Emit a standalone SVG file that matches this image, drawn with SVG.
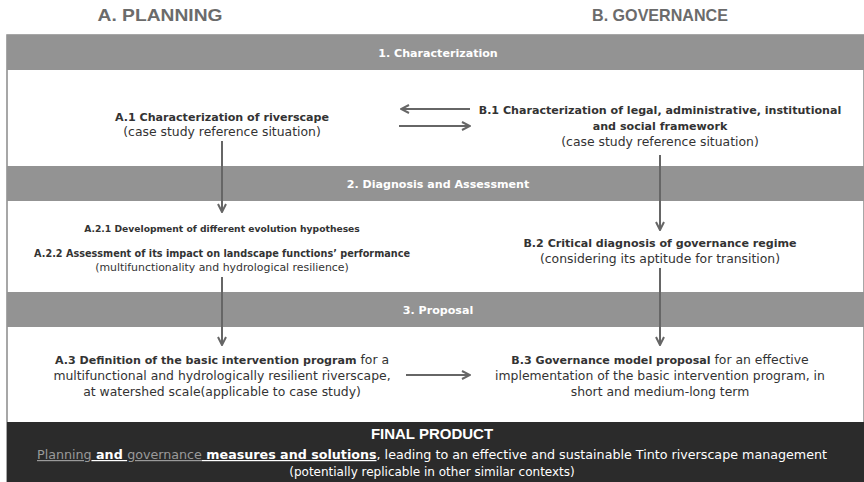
<svg xmlns="http://www.w3.org/2000/svg" width="864" height="482" viewBox="0 0 864 482">
<style>
.hdr{font-family:"Liberation Sans",Arial,sans-serif;font-weight:bold;font-size:17px;fill:#6b6b6b;text-anchor:middle}
.band{fill:#939393}
.bt{font-family:"DejaVu Sans",sans-serif;font-weight:bold;font-size:11.1px;fill:#ffffff;text-anchor:middle}
.t{font-family:"DejaVu Sans",sans-serif;font-size:12.4px;fill:#333;text-anchor:middle}
.b{font-weight:bold;font-size:11.1px}
.sb{font-weight:bold;font-size:9.7px}
.sb1{font-weight:bold;font-size:9.2px}
.s{font-size:10.9px}
.conn{stroke:#666;stroke-width:2;fill:none;marker-end:url(#ah)}
.ft{font-family:"DejaVu Sans",sans-serif;font-size:12px;fill:#ffffff;text-anchor:middle}
</style>
<defs>
<marker id="ah" viewBox="0 0 10 10" refX="9" refY="5" markerWidth="5" markerHeight="5" orient="auto" markerUnits="strokeWidth">
<path d="M1,1 L9,5 L1,9" fill="none" stroke="#666" stroke-width="2"/>
</marker>
</defs>
<rect x="0" y="0" width="864" height="482" fill="#ffffff"/>
<text class="hdr" x="160" y="21" textLength="125" lengthAdjust="spacingAndGlyphs">A. PLANNING</text>
<text class="hdr" x="660" y="21" textLength="136" lengthAdjust="spacingAndGlyphs">B. GOVERNANCE</text>
<g id="frame">
<rect x="7" y="35" width="857" height="447" fill="#ffffff" stroke="#8a8a8a" stroke-width="1.5"/>
</g>
<g id="band1"><rect class="band" x="7" y="35" width="857" height="35"/><text class="bt" x="438" y="57">1. Characterization</text></g>
<g id="band2"><rect class="band" x="7" y="166" width="857" height="35"/><text class="bt" x="438" y="188">2. Diagnosis and Assessment</text></g>
<g id="band3"><rect class="band" x="7" y="292" width="857" height="35"/><text class="bt" x="438" y="314">3. Proposal</text></g>
<g id="final">
<rect x="7" y="422" width="857" height="60" fill="#2b2b2b"/>
<text x="432" y="439" style="font-family:'Liberation Sans',Arial,sans-serif;font-weight:bold;font-size:15px;fill:#fff;text-anchor:middle">FINAL PRODUCT</text>
<text class="ft" x="432" y="459" textLength="790" lengthAdjust="spacingAndGlyphs"><tspan fill="#9a9a9a" text-decoration="underline">Planning</tspan><tspan font-weight="bold" text-decoration="underline"> and </tspan><tspan fill="#9a9a9a" text-decoration="underline">governance</tspan><tspan font-weight="bold" text-decoration="underline"> measures and solutions</tspan>, leading to an effective and sustainable Tinto riverscape management</text>
<text class="ft" x="432" y="476">(potentially replicable in other similar contexts)</text>
</g>
<g id="A1"><text class="t b" x="222" y="121">A.1 Characterization of riverscape</text><text class="t" x="222" y="136">(case study reference situation)</text></g>
<g id="B1"><text class="t b" x="660" y="114">B.1 Characterization of legal, administrative, institutional</text><text class="t b" x="660" y="130">and social framework</text><text class="t" x="660" y="146">(case study reference situation)</text></g>
<g id="A2"><text class="t sb1" x="222" y="232">A.2.1 Development of different evolution hypotheses</text><text class="t sb" x="222" y="257">A.2.2 Assessment of its impact on landscape functions’ performance</text><text class="t s" x="222" y="271">(multifunctionality and hydrological resilience)</text></g>
<g id="B2"><text class="t b" x="660" y="247">B.2 Critical diagnosis of governance regime</text><text class="t" x="660" y="263">(considering its aptitude for transition)</text></g>
<g id="A3"><text class="t" x="222" y="364"><tspan class="b">A.3 Definition of the basic intervention program</tspan> for a</text><text class="t" x="222" y="380">multifunctional and hydrologically resilient riverscape,</text><text class="t" x="222" y="396">at watershed scale(applicable to case study)</text></g>
<g id="B3"><text class="t" x="660" y="364"><tspan class="b">B.3 Governance model proposal</tspan> for an effective</text><text class="t" x="660" y="380">implementation of the basic intervention program, in</text><text class="t" x="660" y="396">short and medium-long term</text></g>
<g id="connectors">
<line class="conn" x1="470" y1="109" x2="401" y2="109"/>
<line class="conn" x1="399" y1="126" x2="470" y2="126"/>
<line class="conn" x1="222" y1="141" x2="222" y2="212"/>
<line class="conn" x1="660" y1="155" x2="660" y2="230"/>
<line class="conn" x1="222" y1="277" x2="222" y2="345"/>
<line class="conn" x1="660" y1="268" x2="660" y2="345"/>
<line class="conn" x1="406" y1="375" x2="470" y2="375"/>
</g>
</svg>
